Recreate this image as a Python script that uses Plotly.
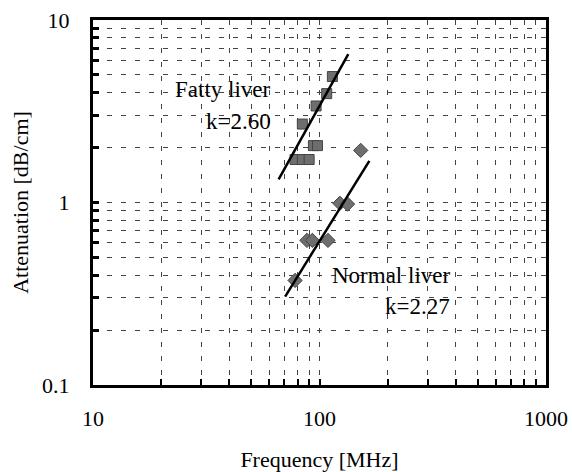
import numpy as np
import plotly.graph_objects as go

# Fatty liver measurements (frequency MHz, attenuation dB/cm)
fatty_freq = [114, 107.6, 96.6, 84, 94, 98, 78, 84, 90]
fatty_att = [4.9, 3.95, 3.38, 2.69, 2.05, 2.05, 1.72, 1.72, 1.72]
# Normal liver measurements
normal_freq = [123, 133, 88, 93, 109, 78, 152]
normal_att = [0.99, 0.98, 0.62, 0.62, 0.62, 0.374, 1.93]
# Fit lines (end points)
fatty_fit_freq = [66, 134]
fatty_fit_att = [1.34, 6.5]
normal_fit_freq = [70.5, 166]
normal_fit_att = [0.305, 1.69]

x_ticks = [10, 100, 1000]
y_ticks = [0.1, 1, 10]
x_minor = [v * d for d in (10, 100) for v in range(2, 10)]
y_minor = [v * d for d in (0.1, 1) for v in range(2, 10)]

FONT = "Liberation Serif"

fig = go.Figure()
fig.add_trace(go.Scatter(x=fatty_freq, y=fatty_att, mode="markers",
                         marker=dict(symbol="square", size=10, color="#6e6e6e",
                                     line=dict(color="#444", width=1))))
fig.add_trace(go.Scatter(x=normal_freq, y=normal_att, mode="markers",
                         marker=dict(symbol="diamond", size=11, color="#6e6e6e",
                                     line=dict(color="#444", width=1))))
fig.add_trace(go.Scatter(x=fatty_fit_freq, y=fatty_fit_att, mode="lines",
                         line=dict(color="black", width=2.5)))
fig.add_trace(go.Scatter(x=normal_fit_freq, y=normal_fit_att, mode="lines",
                         line=dict(color="black", width=2.5)))

ann = [("Fatty liver", 62.4, 4.18), ("k=2.60", 62.4, 2.78),
       ("Normal liver", 385, 0.40), ("k=2.27", 385, 0.27)]
for t, x, y in ann:
    fig.add_annotation(x=np.log10(x), y=np.log10(y), text=t, showarrow=False,
                       xanchor="right", yanchor="middle",
                       font=dict(family=FONT, size=23, color="black"))

grid = dict(gridcolor="#444", griddash="5px,9px", gridwidth=1)
fig.update_xaxes(type="log", range=[1, 3], tickvals=x_ticks, ticktext=["10", "100", "1000"],
                 showline=True, linecolor="black", linewidth=3, mirror=True,
                 ticks="inside", ticklen=6, tickwidth=2, tickcolor="black",
                 ticklabelstandoff=12, automargin=False,
                 showgrid=True, **grid,
                 minor=dict(tickvals=x_minor, ticks="inside", ticklen=6, tickwidth=2,
                            tickcolor="black", showgrid=True, **grid),
                 title=dict(text="Frequency [MHz]", standoff=26,
                            font=dict(family=FONT, size=22, color="black")),
                 tickfont=dict(family=FONT, size=22, color="black"), zeroline=False)
fig.update_yaxes(type="log", range=[-1, 1], tickvals=y_ticks, ticktext=["0.1", "1", "10"],
                 showline=True, linecolor="black", linewidth=3, mirror=True,
                 ticks="inside", ticklen=6, tickwidth=3, tickcolor="black",
                 ticklabelstandoff=16, automargin=False,
                 showgrid=True, **grid,
                 minor=dict(tickvals=y_minor, ticks="inside", ticklen=6, tickwidth=3,
                            tickcolor="black", showgrid=True, **grid),
                 title=dict(text="Attenuation [dB/cm]", standoff=8,
                            font=dict(family=FONT, size=22, color="black")),
                 tickfont=dict(family=FONT, size=22, color="black"), zeroline=False)

fig.update_layout(width=572, height=472, showlegend=False,
                  margin=dict(l=93, r=26, t=20, b=87),
                  plot_bgcolor="white", paper_bgcolor="white",
                  font=dict(family=FONT, color="black"))
fig.write_html("out.html")
